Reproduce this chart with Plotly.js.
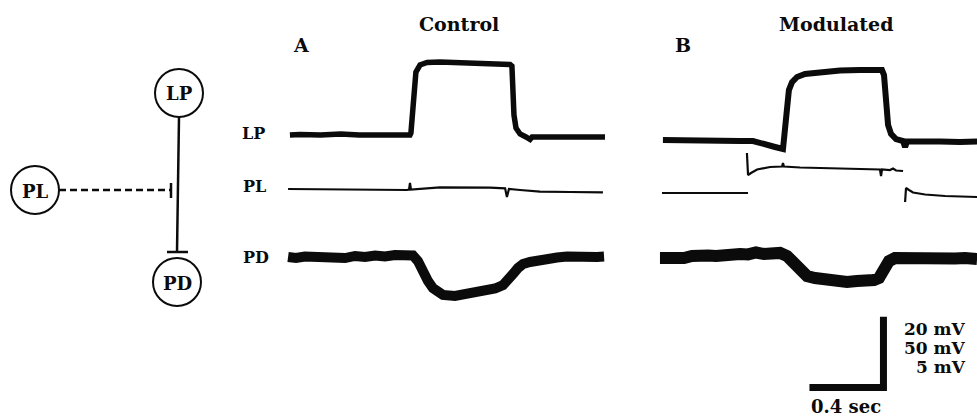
<!DOCTYPE html>
<html><head><meta charset="utf-8">
<script src="https://cdn.plot.ly/plotly-3.0.1.min.js"></script>
<style>html,body{margin:0;padding:0;background:#fff;overflow:hidden}#chart{width:977px;height:416px}</style>
</head><body><div id="chart"></div>
<script>
// ---- data: time in s, potential in mV relative to baseline ----
const lpA_t = [0.005,0.06,0.17,0.28,0.38,0.49,0.60,0.654,0.659,0.665,0.676,0.686,0.708,0.746,0.816,0.924,1.032,1.141,1.195,1.205,1.211,1.216,1.227,1.249,1.281,1.303,1.314,1.384,1.492,1.600,1.708];
const lpA_v = [0,0.14,0,0.29,0,-0.14,0,0,0.56,5.66,12.74,17.84,19.83,20.53,20.68,20.53,20.25,20.1,19.97,19.54,12.74,5.66,1.99,0.29,-0.56,-1.27,-0.56,-0.56,-0.42,-0.42,-0.56];
const plA_t = [-0.005,0.222,0.492,0.638,0.649,0.654,0.659,0.816,1.086,1.168,1.178,1.189,1.249,1.357,1.519,1.697];
const plA_v = [0,-0.33,-0.33,-0.67,-0.33,4.0,-0.33,1.13,0.87,0.47,-5.33,0,-0.67,-1.8,-2.0,-2.2];
const pdA_t = [-0.005,0.038,0.086,0.141,0.195,0.249,0.303,0.357,0.411,0.465,0.519,0.573,0.627,0.670,0.697,0.724,0.751,0.778,0.832,0.897,0.951,1.005,1.059,1.114,1.157,1.184,1.211,1.238,1.265,1.303,1.357,1.449,1.503,1.557,1.611,1.665,1.703];
const pdA_v = [0,-0.07,0.03,-0.03,0.07,0,-0.07,0.07,0,0.1,0.03,0.13,0.1,0.1,-0.27,-1.07,-1.6,-2.07,-2.53,-2.6,-2.5,-2.4,-2.27,-2.1,-1.87,-1.6,-1.13,-0.73,-0.47,-0.33,-0.17,-0.03,0.03,-0.03,0.07,0,0.03];

const lpB_t = [0.005,0.097,0.205,0.314,0.422,0.492,0.530,0.568,0.611,0.654,0.665,0.676,0.686,0.703,0.730,0.773,0.854,0.962,1.070,1.189,1.200,1.211,1.222,1.238,1.265,1.303,1.314,1.324,1.395,1.503,1.611,1.703];
const lpB_v = [0.29,0.14,0,0.14,0,0,-0.42,-0.99,-1.7,-2.26,3.11,10.2,14.44,16.7,18.13,18.98,19.54,19.97,20.1,20.1,18.69,10.2,4.53,1.99,0.56,0,-1.7,-0.14,-0.29,-0.14,-0.29,-0.14];
const plB_t = [0,0.205,0.465,null,0.459,0.465,0.481,0.514,0.584,0.649,0.654,0.659,0.746,0.881,1.016,1.124,1.178,1.184,1.189,1.232,1.249,1.265,1.303,null,1.314,1.319,1.335,1.357,1.422,1.530,1.703];
const plB_v = [0,-0.2,0,null,26.67,12.0,13.33,15.67,17.33,17.67,20.0,17.67,17.0,16.67,16.33,16.0,15.67,11.33,15.67,15.33,16.33,15.0,14.67,null,-6.0,3.33,2.0,0.33,-1.0,-2.0,-2.67];
const pdB_t = [-0.011,0.032,0.076,0.119,0.162,0.205,0.249,0.292,0.335,0.378,0.422,0.465,0.508,0.551,0.595,0.638,0.676,0.708,0.746,0.784,0.827,0.892,0.946,1.0,1.054,1.108,1.146,1.173,1.2,1.227,1.259,1.314,1.368,1.422,1.476,1.530,1.584,1.638,1.703];
const pdB_v = [-0.07,-0.13,-0.03,-0.07,0.07,0,0.1,0.07,0.17,0.1,0.2,0.17,0.3,0.2,0.3,0.27,0.07,-0.33,-0.87,-1.27,-1.4,-1.53,-1.6,-1.67,-1.6,-1.63,-1.53,-1.4,-0.87,-0.27,-0.07,-0.1,-0.03,-0.1,0,-0.07,-0.1,-0.07,-0.13];

// scale bar values
const scaleTime = 0.4;           // s
const scaleLP = 20, scalePL = 50, scalePD = 5; // mV
const scaleLabels = ["20 mV","50 mV","5 mV"];
const timeLabel = "0.4 sec";

// ---- layout geometry (pixels of the 977x416 page) ----
const W = 977, H = 416;
const pxPerS = 185;
const pxPerMV = {LP: 3.53, PL: 1.5, PD: 15};
const originA = 289, originB = 662;
const base = {LPA:135, PLA:189, PDA:257, LPB:141, PLB:193, PDB:257};
function xr(o){ return [-o/pxPerS, (W-o)/pxPerS]; }
function yr(p0, s){ return [-(H-p0)/s, p0/s]; }
function px(x){ return x/W; }
function py(y){ return 1 - y/H; }

const ink = '#0b0b0b';
function tr(x, y, xa, ya, w){
  return {x:x, y:y, xaxis:xa, yaxis:ya, type:'scatter', mode:'lines',
    line:{color:ink, width:w, shape:'linear'}, hoverinfo:'skip', connectgaps:false};
}
const barCorner = {t:1.197, v:-69.8};
const data = [
  tr(lpA_t, lpA_v, 'x', 'y', 5.5),
  tr(plA_t, plA_v, 'x', 'y2', 2.2),
  tr(pdA_t, pdA_v, 'x', 'y3', 10),
  tr(lpB_t, lpB_v, 'x2', 'y4', 6),
  tr(plB_t, plB_v, 'x2', 'y5', 2.2),
  tr(pdB_t, pdB_v, 'x2', 'y6', 12),
  tr([barCorner.t - scaleTime, barCorner.t, barCorner.t],
     [barCorner.v, barCorner.v, barCorner.v + scaleLP], 'x2', 'y4', 7)
];

const hid = {visible:false, fixedrange:true, showgrid:false, zeroline:false};
const layout = {
  width: W, height: H, margin:{l:0,r:0,t:0,b:0,pad:0},
  paper_bgcolor:'#fff', plot_bgcolor:'#fff', showlegend:false,
  xaxis: Object.assign({range: xr(originA), domain:[0,1]}, hid),
  xaxis2: Object.assign({range: xr(originB), overlaying:'x'}, hid),
  yaxis: Object.assign({range: yr(base.LPA, pxPerMV.LP), domain:[0,1]}, hid),
  yaxis2: Object.assign({range: yr(base.PLA, pxPerMV.PL), overlaying:'y'}, hid),
  yaxis3: Object.assign({range: yr(base.PDA, pxPerMV.PD), overlaying:'y'}, hid),
  yaxis4: Object.assign({range: yr(base.LPB, pxPerMV.LP), overlaying:'y'}, hid),
  yaxis5: Object.assign({range: yr(base.PLB, pxPerMV.PL), overlaying:'y'}, hid),
  yaxis6: Object.assign({range: yr(base.PDB, pxPerMV.PD), overlaying:'y'}, hid),
  shapes: [],
  annotations: []
};

// circuit diagram
function circle(cx, cy, r){
  layout.shapes.push({type:'circle', xref:'paper', yref:'paper',
    x0:px(cx-r), x1:px(cx+r), y0:py(cy+r), y1:py(cy-r), line:{color:ink, width:2}});
}
function seg(x0,y0,x1,y1,w,dash){
  layout.shapes.push({type:'line', xref:'paper', yref:'paper',
    x0:px(x0), y0:py(y0), x1:px(x1), y1:py(y1), line:{color:ink, width:w, dash:dash||'solid'}});
}
circle(179, 93, 24);
circle(177, 282, 24);
circle(35, 190, 24);
seg(179, 117, 177, 252, 2.5);
seg(167, 252, 188, 252, 2.5);
seg(59, 190, 170, 190, 2.5, '7px,4px');
seg(171, 183, 171, 198, 2.5);

const fam = 'DejaVu Serif, Liberation Serif, serif';
function txt(s, x, y, size, xanchor){
  layout.annotations.push({text:'<b>'+s+'</b>', xref:'paper', yref:'paper',
    x:px(x), y:py(y), xanchor:xanchor||'center', yanchor:'middle', showarrow:false,
    borderpad:0, font:{family:fam, size:size, color:ink}});
}
txt('Control', 459, 24, 19);
txt('Modulated', 836, 24, 19);
txt('A', 301, 45, 19);
txt('B', 683, 45, 19);
txt('LP', 253, 133, 16);
txt('PL', 254, 186, 16);
txt('PD', 256, 257, 16);
txt('LP', 179, 94, 18);
txt('PD', 177, 283, 18);
txt('PL', 35, 191, 18);
txt(scaleLabels[0], 967, 328.5, 17, 'right');
txt(scaleLabels[1], 967, 347.5, 17, 'right');
txt(scaleLabels[2], 967, 366.5, 17, 'right');
txt(timeLabel, 846, 406, 18);

Plotly.newPlot('chart', data, layout, {staticPlot:true, displayModeBar:false});
</script></body></html>
